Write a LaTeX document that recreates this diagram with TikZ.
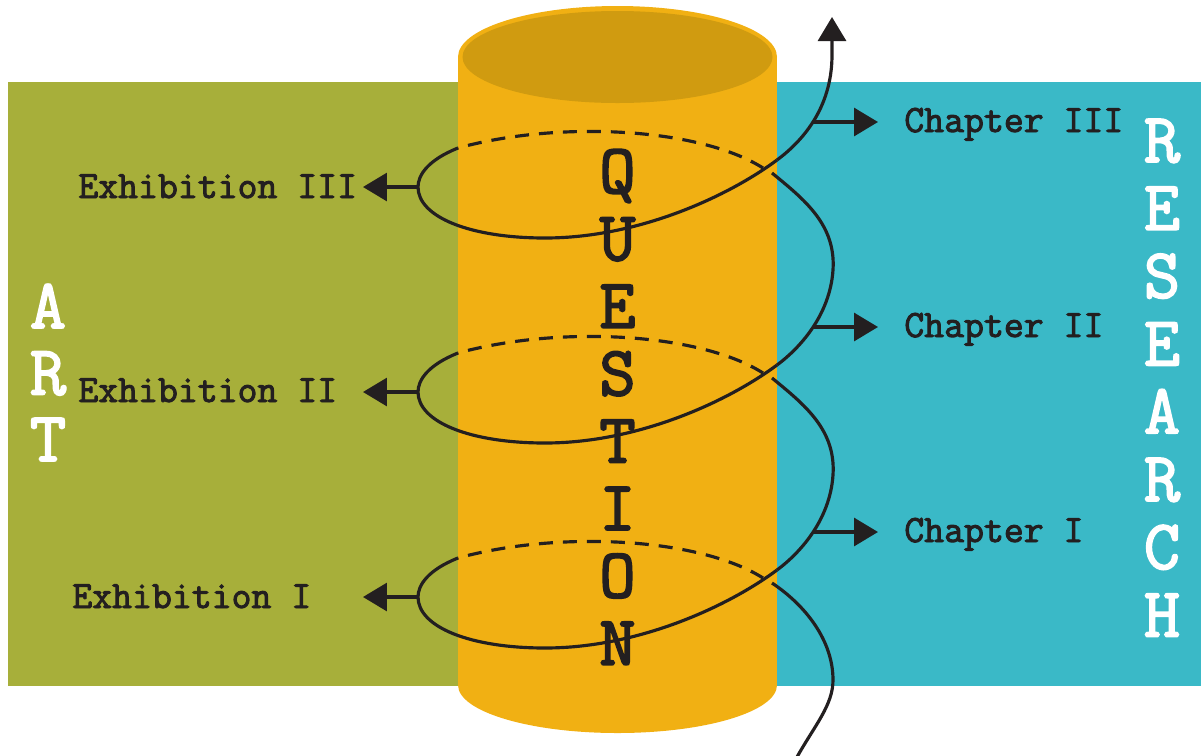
\documentclass[tikz,border=0pt]{standalone}
\usepackage{fontspec}
\newfontfamily\typer{Latin Modern Mono}[FakeBold=2.5]
\usetikzlibrary{arrows.meta}

\definecolor{artgreen}{RGB}{167,175,58}
\definecolor{resteal}{RGB}{58,185,199}
\definecolor{cylorange}{RGB}{241,176,19}
\definecolor{cyltop}{RGB}{208,155,16}
\definecolor{ink}{RGB}{35,31,32}

\begin{document}
\begin{tikzpicture}[x=0.02cm,y=-0.02cm,
	spiral/.style={draw=ink,line width=1.8pt},
	behind/.style={spiral,dash pattern=on 0.28cm off 0.2cm},
	pointer/.style={spiral,-{Triangle[length=0.48cm,width=0.56cm]}},
	bigletter/.style={font=\typer\fontsize{40}{40}\selectfont,inner sep=0pt,anchor=base},
	smalltext/.style={font=\typer\fontsize{22}{23}\selectfont,text=ink,inner sep=0pt,anchor=base west}]
	\useasboundingbox (0,0) rectangle (1201,755);
	
	% the two fields
	\fill[artgreen] (8,82) rectangle (618,686);
	\fill[resteal] (618,82) rectangle (1201,686);
	
	% the cylinder
	\fill[cylorange] (458,57) rectangle (777,685);
	\fill[cylorange] (617.5,685) ellipse [x radius=159.5,y radius=48];
	\fill[cylorange] (617.5,57) ellipse [x radius=159.5,y radius=51];
	\fill[cyltop] (617.5,57) ellipse [x radius=155,y radius=46];
	
	% letters
	\foreach \l [count=\i from 0] in {Q,U,E,S,T,I,O,N}
		\node[bigletter,text=ink] (q\i) at (617.5,193+67.4*\i) {\l};
	\foreach \l [count=\i from 0] in {A,R,T}
		\node[bigletter,text=white] (a\i) at (48,328+66.5*\i) {\l};
	\foreach \l [count=\i from 0] in {R,E,S,E,A,R,C,H}
		\node[bigletter,text=white] (r\i) at (1162,162+67.8*\i) {\l};
	
	% spiral, from the bottom up
	\coordinate (start) at (797,757);
	\draw[spiral] (start) .. controls (815,725) and (833,705) .. (833,680)
		.. controls (833,640) and (805,605) .. (772,583);
	\foreach \k/\r [evaluate=\k as \d using -205*\k] in {0/I,1/II,2/III} {
		\coordinate (e\k) at (418,597+\d);
		\coordinate (et\k) at (363,597+\d);
		\coordinate (c\k) at (813,532+\d);
		\coordinate (ct\k) at (878,532+\d);
		\node[smalltext] (ch\k) at (904,542+\d) {Chapter \r};
		\draw[behind] (763,578+\d) .. controls (700,538+\d) and (560,530+\d) .. (458,558+\d);
		\draw[spiral] (458,558+\d) .. controls (428,570+\d) and (418,585+\d) .. (e\k)
			.. controls (418,627+\d) and (470,648+\d) .. (545,648+\d)
			.. controls (640,648+\d) and (730,605+\d) .. (777,570+\d);
		\draw[pointer] (e\k) -- (et\k);
		\draw[pointer] (c\k) -- (ct\k);
	}
	\node[smalltext] (ex0) at (72,608) {Exhibition I};
	\node[smalltext] (ex1) at (78,402) {Exhibition II};
	\node[smalltext] (ex2) at (78,198) {Exhibition III};
	
	\foreach \k [evaluate=\k as \d using -205*\k] in {0,1}
		\draw[spiral] (777,570+\d) .. controls (800,553+\d) and (830,520+\d) .. (833,475+\d)
			.. controls (836,430+\d) and (805,405+\d) .. (772,378+\d);
	\coordinate (finish) at (832,17);
	\draw[pointer] (777,160) .. controls (800,143) and (832,110) .. (832,55) -- (finish);
\end{tikzpicture}
\end{document}
